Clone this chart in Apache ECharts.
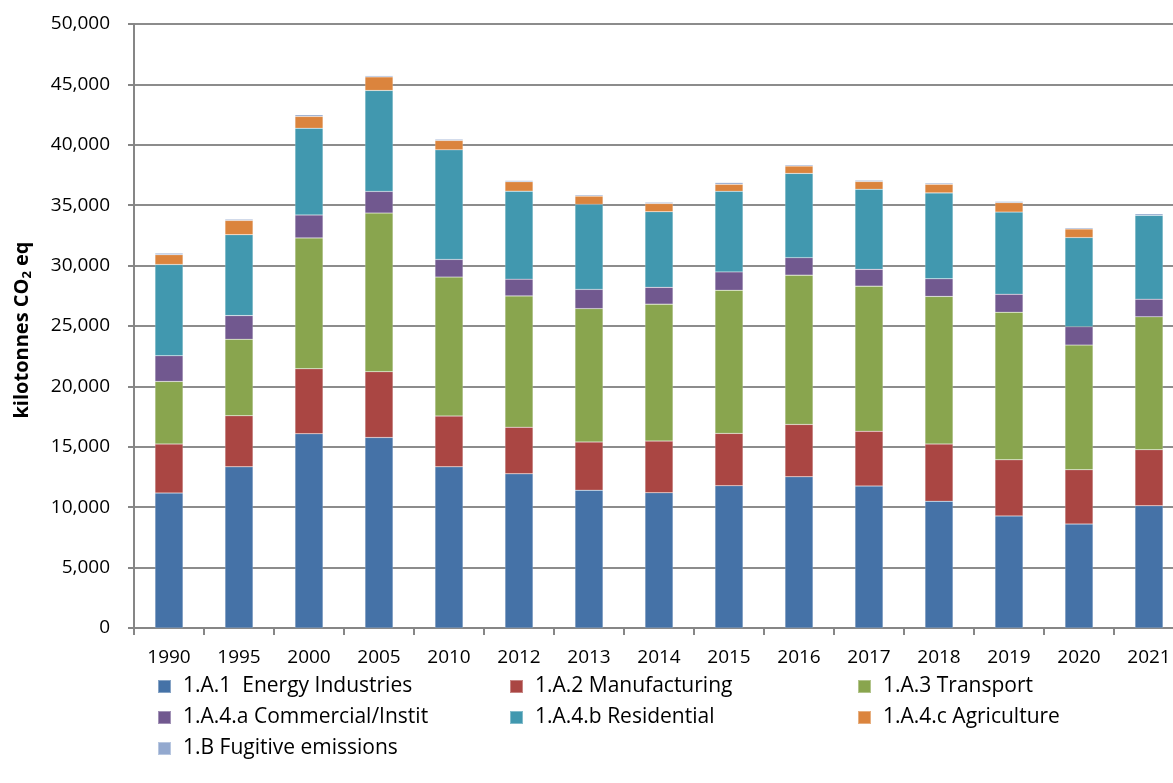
<!DOCTYPE html>
<html>
<head>
<meta charset="utf-8">
<script src="https://cdn.jsdelivr.net/npm/echarts@6/dist/echarts.min.js"></script>
<style>
  html, body { margin: 0; padding: 0; background: #fff; }
  #chart { width: 1173px; height: 783px; }
</style>
</head>
<body>
<div id="chart"></div>
<script>
const years = ["1990", "1995", "2000", "2005", "2010", "2012", "2013", "2014", "2015", "2016", "2017", "2018", "2019", "2020", "2021"];

// kilotonnes CO2 eq
const energyIndustries = [11170, 13340, 16080, 15770, 13340, 12760, 11410, 11200, 11780, 12520, 11750, 10490, 9280, 8600, 10120];
const manufacturing = [4060, 4230, 5380, 5450, 4200, 3860, 3990, 4270, 4330, 4330, 4530, 4740, 4640, 4500, 4640];
const transport = [5180, 6330, 10830, 13130, 11510, 10870, 11040, 11340, 11850, 12360, 12020, 12220, 12220, 10320, 11000];
const commercial = [2130, 1960, 1900, 1790, 1460, 1390, 1590, 1390, 1520, 1450, 1390, 1460, 1490, 1520, 1460];
const residential = [7550, 6700, 7180, 8360, 9070, 7280, 7040, 6260, 6670, 6970, 6630, 7110, 6800, 7380, 6940];
const agriculture = [810, 1180, 980, 1120, 780, 780, 680, 680, 580, 610, 640, 710, 780, 710, 0];
const fugitive = [130, 100, 140, 100, 100, 100, 100, 100, 140, 100, 100, 100, 100, 100, 130];

const seriesDefs = [
  { name: "1.A.1  Energy Industries", data: energyIndustries, color: "#4572a7" },
  { name: "1.A.2 Manufacturing", data: manufacturing, color: "#aa4643" },
  { name: "1.A.3 Transport", data: transport, color: "#89a54e" },
  { name: "1.A.4.a Commercial/Instit", data: commercial, color: "#71588f" },
  { name: "1.A.4.b Residential", data: residential, color: "#4198af" },
  { name: "1.A.4.c Agriculture", data: agriculture, color: "#db843d" },
  { name: "1.B Fugitive emissions", data: fugitive, color: "#93a9cf" }
];

const font = "'Open Sans', sans-serif";

function makeLegend(names, left) {
  return {
    orient: "vertical",
    left: left,
    top: 671,
    itemWidth: 13,
    itemHeight: 13,
    itemGap: 10,
    icon: "rect",
    selectedMode: false,
    textStyle: { fontFamily: font, fontSize: 21, color: "#000", padding: [0, 0, 0, 7] },
    data: names
  };
}

var myChart = echarts.init(document.getElementById("chart"));

let option = {
  animation: false,
  backgroundColor: "#fff",
  grid: { left: 134, width: 1050, top: 24, bottom: 155, outerBoundsMode: "none" },
  legend: [
    makeLegend([seriesDefs[0].name, seriesDefs[3].name, seriesDefs[6].name], 152),
    makeLegend([seriesDefs[1].name, seriesDefs[4].name], 504),
    makeLegend([seriesDefs[2].name, seriesDefs[5].name], 852)
  ],
  xAxis: {
    type: "category",
    data: years,
    axisLine: { lineStyle: { color: "#868686", width: 2 } },
    axisTick: { show: true, length: 7, lineStyle: { color: "#868686", width: 2 } },
    axisLabel: { margin: 20, fontFamily: font, fontSize: 19, color: "#000" }
  },
  yAxis: {
    type: "value",
    min: 0,
    max: 50000,
    interval: 5000,
    name: "kilotonnes CO{sub|2} eq",
    nameLocation: "middle",
    nameGap: 100,
    nameTextStyle: {
      fontFamily: font,
      fontSize: 20,
      fontWeight: "bold",
      color: "#000",
      padding: [0, 8, 0, 0],
      rich: {
        sub: { fontFamily: font, fontSize: 13, fontWeight: "bold", color: "#000", padding: [10, 0, 0, 0] }
      }
    },
    axisLine: { show: true, lineStyle: { color: "#868686", width: 2 } },
    axisTick: { show: true, length: 6, inside: false, lineStyle: { color: "#868686", width: 2 } },
    axisLabel: {
      margin: 24,
      fontFamily: font,
      fontSize: 19,
      color: "#000",
      formatter: function(v) {
        return v.toLocaleString("en-US");
      }
    },
    splitLine: { lineStyle: { color: "#8c8c8c", width: 2 } }
  },
  series: seriesDefs.map(function(s) {
    return {
      name: s.name,
      type: "bar",
      stack: "total",
      barWidth: "40%",
      data: s.data,
      itemStyle: { color: s.color, borderColor: "rgba(255,255,255,0.35)", borderWidth: 0.5 }
    };
  })
};
myChart.setOption(option);
</script>
</body>
</html>
